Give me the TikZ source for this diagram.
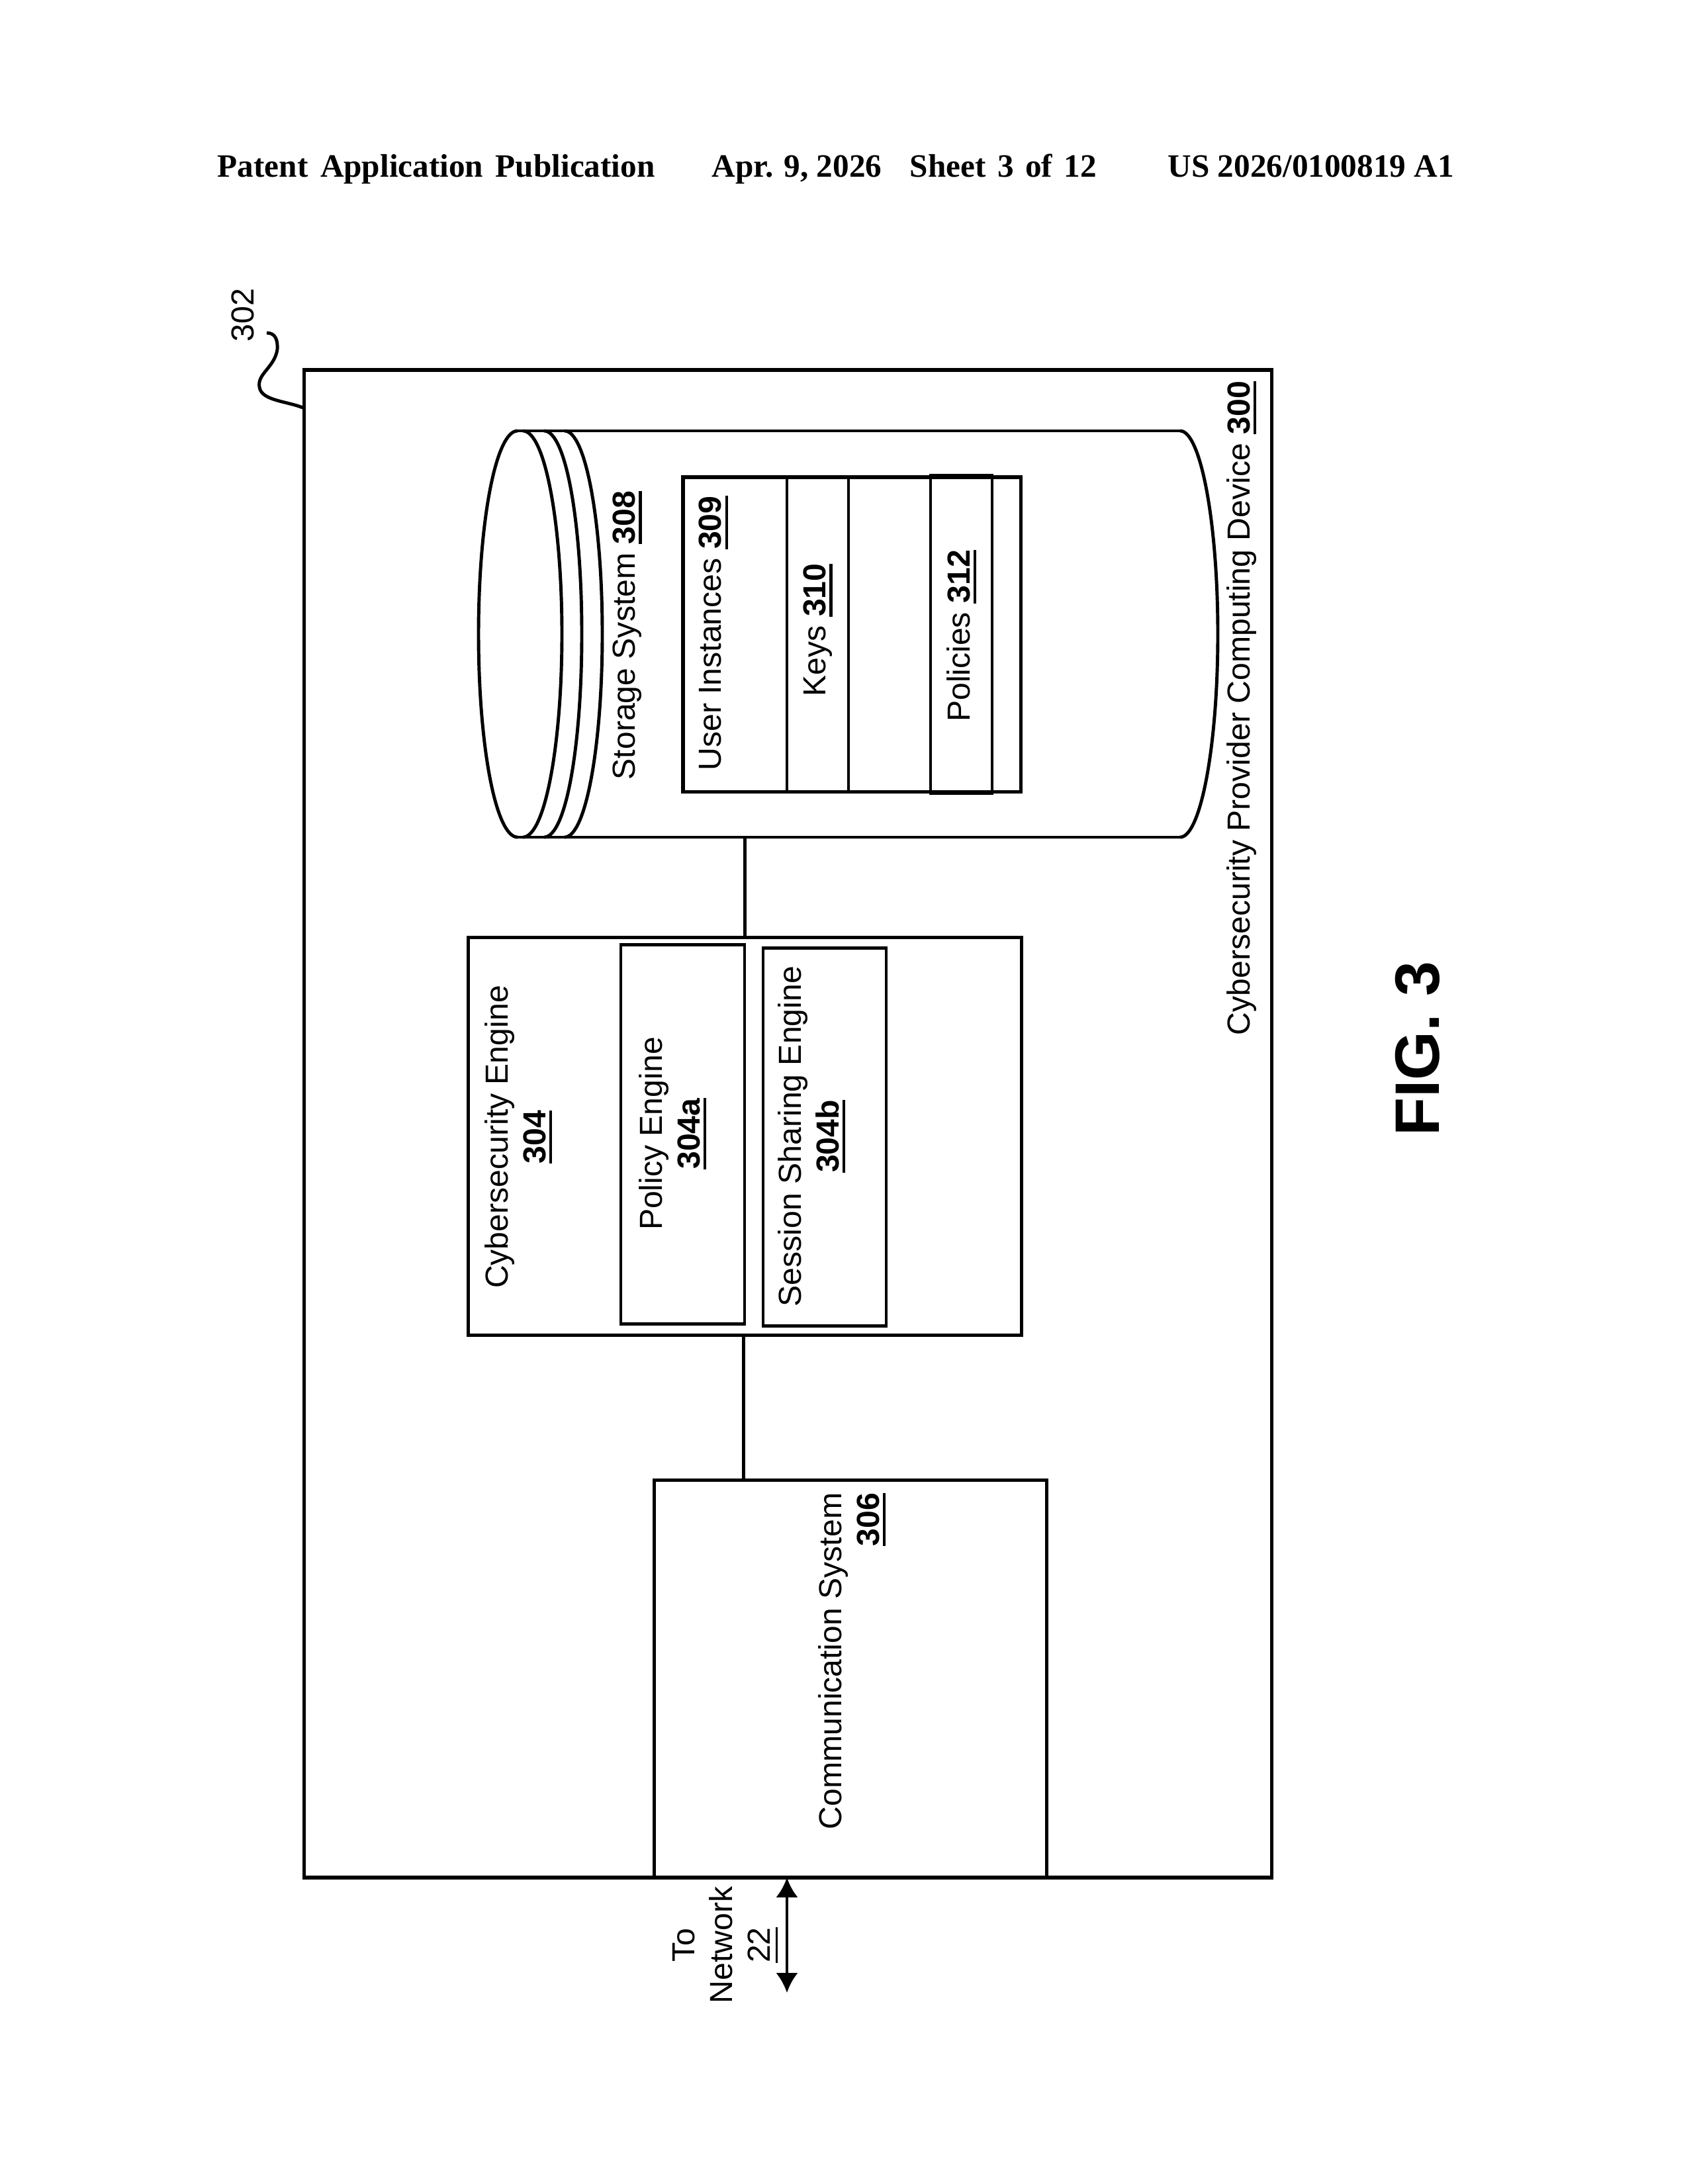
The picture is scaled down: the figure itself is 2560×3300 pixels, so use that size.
\documentclass[tikz,border=0pt]{standalone}
\usepackage{fontspec}
\setmainfont{Liberation Sans}
\newfontfamily\hdrfont{Liberation Serif}
\usetikzlibrary{arrows.meta}
\newcommand{\ubfnum}[1]{\setbox0\hbox{\bfseries #1}\leavevmode\rlap{\rule[-2.8pt]{\wd0}{1.2pt}}\box0}
\newcommand{\unum}[1]{\setbox0\hbox{#1}\leavevmode\rlap{\rule[-3.2pt]{\wd0}{0.9pt}}\box0}
\tikzset{
  px/.style={x=0.01cm,y=-0.01cm},
  boxnode/.style={draw=black,line width=1.5pt,inner sep=0pt,outer sep=0pt,fill=none},
  cellnode/.style={boxnode,line width=1.35pt},
  lab/.style={rotate=90,font=\fontsize{13.7}{16.2}\selectfont,align=center,inner sep=0pt},
  curve/.style={draw=black,line width=1.4pt},
  conn/.style={draw=black,line width=1.4pt},
  hdr/.style={anchor=base west,inner sep=0pt,font=\hdrfont\bfseries\fontsize{14}{16}\selectfont}
}
\begin{document}
\begin{tikzpicture}[px]
\path[use as bounding box,fill=white] (0,0) rectangle (2560,3300);
% header
\node[hdr] (h1) at (328,268) {\spaceskip=5.3pt Patent Application Publication};
\node[hdr] (h2) at (1075,268) {Apr. 9, 2026};
\node[hdr] (h3) at (1374,268) {\spaceskip=5.0pt Sheet 3 of 12};
\node[hdr] (h4) at (1764,268) {US 2026/0100819 A1};
% boxes
\node[boxnode,minimum width=14.61cm,minimum height=22.765cm] (outer) at (1190.5,1698) {};
\node[boxnode,minimum width=5.92cm,minimum height=5.99cm] (comm) at (1285,2536.5) {};
\node[boxnode,minimum width=8.35cm,minimum height=6.00cm] (engine) at (1125.5,1717) {};
\node[cellnode,minimum width=1.87cm,minimum height=5.72cm] (policyeng) at (1031.5,1714) {};
\node[cellnode,minimum width=1.86cm,minimum height=5.70cm] (sessioneng) at (1246,1718) {};
% cylinder
\node[inner sep=0pt,outer sep=0pt,minimum width=11.16cm,minimum height=6.14cm] (cyl) at (1281,958) {};
\begin{scope}[curve]
\draw (1783,651) -- (782,651);
\draw (782,1265) -- (1783,1265);
\draw (782,651) .. controls (749,651) and (723,789) .. (723,958) .. controls (723,1127) and (749,1265) .. (782,1265);
\draw (790,651) .. controls (823,651) and (849,789) .. (849,958) .. controls (849,1127) and (823,1265) .. (790,1265);
\draw (822,651) .. controls (855,651) and (879,789) .. (879,958) .. controls (879,1127) and (855,1265) .. (822,1265);
\draw (853,651) .. controls (885,651) and (910,789) .. (910,958) .. controls (910,1127) and (885,1265) .. (853,1265);
\draw (1783,651) .. controls (1814,651) and (1840,789) .. (1840,958) .. controls (1840,1127) and (1814,1265) .. (1783,1265);
\end{scope}
% table
\node[boxnode,minimum width=5.10cm,minimum height=4.75cm] (table) at (1287,958.5) {};
\node[cellnode,minimum width=0.93cm,minimum height=4.75cm] (keyscell) at (1235.5,958.5) {};
\node[cellnode,minimum width=0.93cm,minimum height=4.79cm] (policycell) at (1452.5,958.5) {};
% labels
\node[lab] (t302) at (367,476) {302};
\node[lab] (t300) at (1876,1070) {Cybersecurity Provider Computing Device \ubfnum{300}};
\node[lab] (t308) at (948,960) {Storage System \ubfnum{308}};
\node[lab] (t309) at (1078,957) {User Instances \ubfnum{309}};
\node[lab] (t310) at (1236,952) {Keys \ubfnum{310}};
\node[lab] (t312) at (1453,961) {Policies \ubfnum{312}};
\node[lab] (t304) at (783,1718) {Cybersecurity Engine\\\ubfnum{304}};
\node[lab] (t304a) at (1016,1713) {Policy Engine\\\ubfnum{304a}};
\node[lab] (t304b) at (1226,1717) {Session Sharing Engine\\\ubfnum{304b}};
\node[lab,align=right] (t306) at (1287,2510) {Communication System\\\ubfnum{306}};
\node[lab] (t22) at (1096,2939) {To\\Network\\\unum{22}};
\node[rotate=90,inner sep=0pt,font=\bfseries\fontsize{27}{30}\selectfont] (fig) at (2142,1585) {FIG. 3};
% connectors
\draw[conn] (cyl.south -| engine.north) -- (engine.north);
\draw[conn] ([xshift=-0.02cm]engine.south) -- ([xshift=-0.02cm]engine.south |- comm.north);
\coordinate (netend) at (1189,3011);
\draw[conn,{Latex[length=8.5pt,width=9.5pt]}-{Latex[length=8.5pt,width=9.5pt]}] (netend) -- (netend |- outer.south);
\coordinate (leadstart) at (403,503);
\coordinate (leadend) at (460,617);
\draw[curve] (leadstart) .. controls (415,503) and (420,512) .. (419,528) .. controls (415,555) and (388,565) .. (392,585) .. controls (395,606) and (435,606) .. (leadend);
\end{tikzpicture}
\end{document}
